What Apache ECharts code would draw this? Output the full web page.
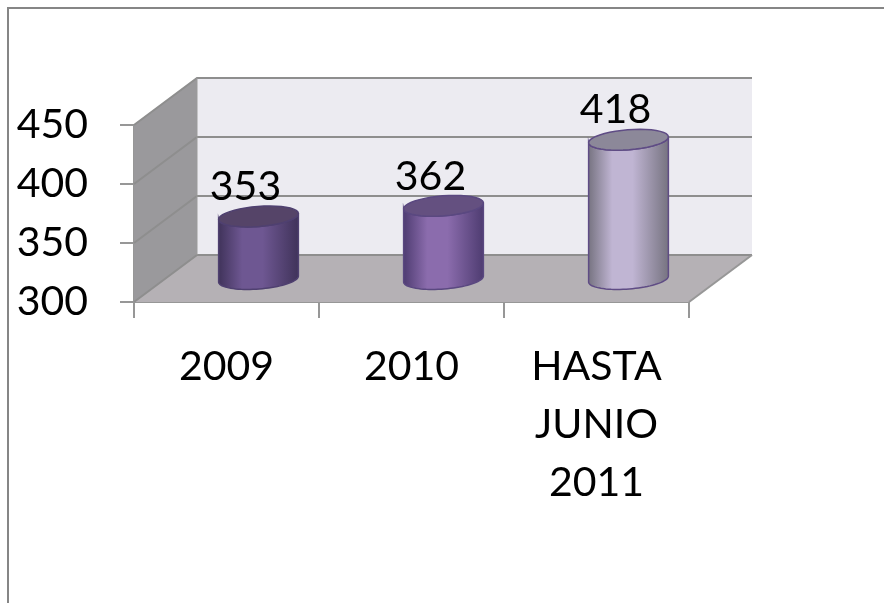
<!DOCTYPE html>
<html>
<head>
<meta charset="utf-8">
<style>
  html, body { margin: 0; padding: 0; background: #fff; }
  #chart { width: 884px; height: 603px; }
</style>
<script src="https://cdn.jsdelivr.net/npm/echarts@6/dist/echarts.min.js"></script>
</head>
<body>
<div id="chart"></div>
<script>
var categories = ['2009', '2010', 'HASTA\nJUNIO\n2011'];
var values = [353, 362, 418];
var yMin = 300, yMax = 450, yStep = 50;
var yTicks = [300, 350, 400, 450];

// side colours per bar: edge, highlight, top cap, outline
var barEdge = ['#3f3259', '#4d3b70', '#75727f'];
var barLight = ['#6e5792', '#8b6cad', '#c0b5d3'];
var barCap = ['#554468', '#645080', '#8c8899'];
var barLine = ['#4f4070', '#5a4880', '#5f4c85'];

// fake 3d depth of the box, and where the bars sit inside it
var depthX = 63, depthY = -47;
var barX = 32, barY = -23;
var barRadius = 40, capRadius = 10, tilt = -4.5 * Math.PI / 180;

var chart = echarts.init(document.getElementById('chart'));

function ellipsePoints(cx, cy, from, to) {
  var pts = [];
  for (var i = 0; i <= 40; i++) {
    var t = from + (to - from) * i / 40;
    var ex = barRadius * Math.cos(t), ey = capRadius * Math.sin(t);
    pts.push([cx + ex * Math.cos(tilt) - ey * Math.sin(tilt),
              cy + ex * Math.sin(tilt) + ey * Math.cos(tilt)]);
  }
  return pts;
}

function renderBox(params, api) {
  var g = params.coordSys;
  var left = g.x, right = g.x + g.width, bottom = g.y + g.height, top = g.y;
  var kids = [
    { type: 'polygon', shape: { points: [[left, top], [left + depthX, top + depthY], [left + depthX, bottom + depthY], [left, bottom]] },
      style: { fill: '#9a999c' } },
    { type: 'polygon', shape: { points: [[left + depthX, top + depthY], [right + depthX, top + depthY], [right + depthX, bottom + depthY], [left + depthX, bottom + depthY]] },
      style: { fill: '#ecebf1' } },
    { type: 'polygon', shape: { points: [[left, bottom], [left + depthX, bottom + depthY], [right + depthX, bottom + depthY], [right, bottom]] },
      style: { fill: '#b5b1b5' } }
  ];
  yTicks.forEach(function (t) {
    var y = api.coord([0, t])[1];
    kids.push({ type: 'polyline', shape: { points: [[left, y], [left + depthX, y + depthY], [right + depthX, y + depthY]] },
      style: { fill: null, stroke: '#8e8e8e', lineWidth: 2 } });
  });
  kids.push({ type: 'line', shape: { x1: left + depthX, y1: top + depthY, x2: left + depthX, y2: bottom + depthY },
    style: { stroke: '#9b9b9b', lineWidth: 1 } });
  kids.push({ type: 'line', shape: { x1: right, y1: bottom, x2: right + depthX, y2: bottom + depthY },
    style: { stroke: '#979797', lineWidth: 2 } });
  return { type: 'group', children: kids };
}

function renderBar(params, api) {
  var i = params.dataIndex;
  var topPt = api.coord([i, api.value(1)]);
  var basePt = api.coord([i, yMin]);
  var cx = topPt[0] + barX;
  var ty = topPt[1] + barY, by = basePt[1] + barY;
  // side wall: front half of the base, back up along the front half of the cap
  var side = ellipsePoints(cx, by, 0, Math.PI).concat(ellipsePoints(cx, ty, Math.PI, 0));
  var fill = new echarts.graphic.LinearGradient(0, 0, 1, 0, [
    { offset: 0, color: barEdge[i] },
    { offset: 0.3, color: barLight[i] },
    { offset: 0.55, color: barLight[i] },
    { offset: 1, color: barEdge[i] }
  ]);
  return { type: 'group', children: [
    { type: 'polygon', shape: { points: side }, style: { fill: fill, stroke: barLine[i], lineWidth: 1.5 } },
    { type: 'polygon', shape: { points: ellipsePoints(cx, ty, 0, Math.PI * 2) }, style: { fill: barCap[i], stroke: barLine[i], lineWidth: 1.5 } },
    { type: 'text', style: { x: cx - 13, y: ty - 9, text: String(api.value(1)), fill: '#000', align: 'center', verticalAlign: 'bottom',
        font: '41px Lato' } }
  ] };
}

chart.setOption({
  animation: false,
  backgroundColor: '#fff',
  graphic: [
    { type: 'polyline', z: 10, shape: { points: [[8, 603], [8, 8], [884, 8]] }, style: { fill: null, stroke: '#868686', lineWidth: 2 } }
  ],
  grid: { left: 134, right: 195, top: 125, bottom: 301 },
  xAxis: {
    type: 'category',
    data: categories,
    axisLine: { lineStyle: { color: '#979797', width: 2 } },
    axisTick: { show: true, length: 16, alignWithLabel: false, lineStyle: { color: '#979797', width: 2 } },
    axisLabel: { interval: 0, margin: 36, color: '#000', fontFamily: 'Lato', fontSize: 41, lineHeight: 58 }
  },
  yAxis: {
    type: 'value',
    min: yMin,
    max: yMax,
    interval: yStep,
    axisLine: { show: true, lineStyle: { color: '#979797', width: 2 } },
    axisTick: { show: true, length: 14, lineStyle: { color: '#979797', width: 2 } },
    axisLabel: { margin: 46, color: '#000', fontFamily: 'Lato', fontSize: 41, padding: [6, 0, 0, 0] },
    splitLine: { show: false }
  },
  series: [
    { type: 'custom', coordinateSystem: 'cartesian2d', data: [[0, yMin]], renderItem: renderBox, z: 1, silent: true },
    { type: 'custom', coordinateSystem: 'cartesian2d', data: values.map(function (v, i) { return [i, v]; }), renderItem: renderBar, z: 3, silent: true }
  ]
});
</script>
</body>
</html>
